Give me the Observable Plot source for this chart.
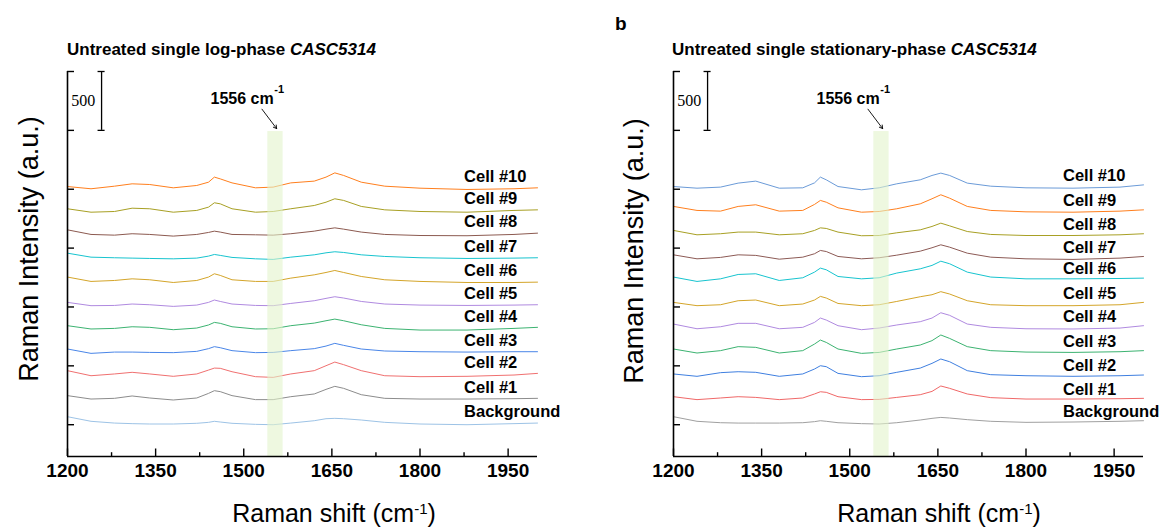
<!DOCTYPE html>
<html><head><meta charset="utf-8">
<script src="https://cdn.jsdelivr.net/npm/d3@7"></script>
<script src="https://cdn.jsdelivr.net/npm/@observablehq/plot@0.6"></script>
<style>
body{margin:0;background:#fff;}
#root{position:relative;width:1161px;height:529px;overflow:hidden;font-family:"Liberation Sans",Arial,sans-serif;color:#000;}
.abs{position:absolute;white-space:nowrap;line-height:1.2;}
.abs sup{font-size:15px;line-height:0;vertical-align:0.55em;}
.plot{position:absolute;top:0;}
</style></head><body><div id="root"></div>
<script>
// ---- data ----
const shifts = [1200,1240,1280,1310,1340,1380,1420,1440,1450,1460,1480,1520,1550,1580,1620,1640,1655,1670,1700,1740,1800,1880,1960,2000];
const seriesNames = ["Background","Cell #1","Cell #2","Cell #3","Cell #4","Cell #5","Cell #6","Cell #7","Cell #8","Cell #9","Cell #10"];
const xTickLabels = [1200,1350,1500,1650,1800,1950];
const xMinorTicks = [1275,1425,1575,1725,1875];
const yTicks = [0,500,1000,1500,2000,2500,3000];
const band = [1541,1567];

// log-phase (a)
const logBackground = [68,29,14,9,6,6,12,20,29,23,12,3,0,14,34,51,54,51,40,20,6,0,9,14];
const logCell1 = [247,218,224,244,227,210,227,266,289,281,247,213,213,238,261,300,326,309,255,224,218,218,221,224];
const logCell2 = [459,416,431,445,431,411,431,464,481,479,450,408,402,431,459,501,532,510,459,416,408,411,422,436];
const logCell3 = [643,606,617,617,614,612,623,646,663,654,629,612,614,629,646,668,691,674,643,626,620,617,620,620];
const logCell4 = [841,813,818,832,827,807,821,847,869,861,832,813,815,841,863,883,897,883,849,818,804,804,818,827];
const logCell5 = [1039,1011,1013,1025,1019,1005,1016,1039,1059,1047,1025,1013,1011,1030,1053,1073,1087,1076,1047,1025,1016,1013,1016,1019];
const logCell6 = [1254,1217,1225,1239,1231,1208,1225,1254,1282,1268,1231,1217,1217,1245,1273,1293,1310,1293,1259,1231,1217,1208,1208,1211];
const logCell7 = [1457,1423,1418,1415,1412,1409,1415,1432,1446,1438,1421,1409,1404,1423,1443,1460,1469,1463,1443,1429,1418,1412,1415,1418];
const logCell8 = [1655,1616,1610,1622,1616,1602,1616,1633,1644,1636,1616,1613,1610,1622,1644,1661,1672,1661,1636,1616,1607,1605,1616,1627];
const logCell9 = [1834,1805,1811,1839,1834,1805,1820,1848,1885,1876,1834,1805,1811,1834,1862,1890,1919,1905,1854,1825,1811,1805,1820,1825];
const logCell10 = [2023,2004,2026,2046,2040,2012,2032,2060,2103,2088,2054,2012,2018,2054,2069,2103,2139,2117,2060,2026,2009,1998,2004,2012];
const logColors = ["#9dc3e6","#8c8c8c","#f07070","#4a86e8","#3cb371","#b08ae0","#d4a52a","#17c4cf","#8c5a50","#a8a024","#ff7f1e"];

// stationary-phase (b)
const statBackground = [68,29,17,14,14,14,17,26,34,29,17,9,6,17,40,54,62,57,43,29,20,23,29,34];
const statCell1 = [238,213,227,238,232,213,227,261,280,275,238,213,215,232,255,283,329,309,261,230,218,218,221,224];
const statCell2 = [431,411,442,450,445,411,431,473,501,493,436,408,416,445,481,521,558,535,459,425,416,411,416,422];
const statCell3 = [643,609,629,663,657,609,629,685,719,699,643,606,614,643,677,714,762,733,663,629,617,614,620,629];
const statCell4 = [855,815,832,861,861,815,827,869,906,889,841,807,821,847,875,906,951,929,855,827,815,813,821,841];
const statCell5 = [1039,1011,1019,1053,1059,1011,1025,1059,1090,1076,1030,1011,1019,1047,1087,1104,1130,1110,1053,1019,1011,1011,1019,1039];
const statCell6 = [1254,1217,1239,1276,1282,1225,1248,1296,1330,1316,1259,1239,1248,1288,1324,1353,1389,1367,1296,1254,1239,1239,1242,1245];
const statCell7 = [1443,1409,1421,1443,1438,1406,1423,1452,1480,1471,1429,1409,1418,1440,1474,1503,1528,1508,1457,1423,1409,1404,1415,1429];
const statCell8 = [1650,1613,1622,1636,1636,1613,1622,1650,1672,1667,1636,1605,1607,1630,1655,1684,1712,1689,1641,1616,1607,1607,1613,1622];
const statCell9 = [1854,1820,1814,1854,1868,1814,1820,1871,1905,1890,1842,1805,1811,1834,1876,1919,1953,1924,1854,1820,1808,1805,1814,1825];
const statCell10 = [2023,2009,2018,2052,2069,2009,2012,2054,2103,2080,2023,1995,2012,2046,2080,2117,2137,2117,2052,2026,2012,2009,2018,2037];
const statColors = ["#a0a0a0","#f06868","#3f7fe0","#3cb371","#b08ae0","#d4a52a","#17c4cf","#8c5a55","#a8a024","#ff7f1e","#6b9bd8"];

// ---- drawing ----
const Y0 = -270, Y1 = 3000, X0 = 1200, X1 = 2000;
const FONT = '"Liberation Sans", Arial, sans-serif';

function panel({values, colors, left, width, ml, mr, labelX, labelDy}) {
  const rows = [];
  seriesNames.forEach((name, i) => values[i].forEach((v, j) => rows.push({series: name, shift: shifts[j], value: v})));
  const labels = seriesNames.map((name, i) => ({series: name, value: values[i][values[i].length - 1]}));
  const frameW = width - ml - mr, frameH = 529 - 71 - 73;
  const svg = Plot.plot({
    width, height: 529, marginLeft: ml, marginRight: mr, marginTop: 71, marginBottom: 73,
    x: {domain: [X0, X1], axis: null},
    y: {domain: [Y0, Y1], axis: null},
    color: {domain: seriesNames, range: colors},
    style: {fontFamily: FONT, background: "transparent", overflow: "visible"},
    marks: [
      Plot.line(rows, {x: "shift", y: "value", z: "series", stroke: "series", strokeWidth: 1}),
      Plot.rect([band], {x1: d => d[0], x2: d => d[1], y1: Y0, y2: 2490, fill: "rgb(227,243,204)", fillOpacity: 0.6}),
      Plot.text(labels, {x: labelX, y: "value", text: "series", dy: labelDy, textAnchor: "start", fontSize: 16.5, fontWeight: "bold", fill: "#000"}),
      // axes
      Plot.ruleX([X0], {stroke: "#000", strokeWidth: 1.6}),
      Plot.ruleY([Y0], {stroke: "#000", strokeWidth: 1.6}),
      Plot.tickX(xTickLabels, {x: d => d, insetTop: frameH - 7.5, stroke: "#000", strokeWidth: 1.4}),
      Plot.tickX(xMinorTicks, {x: d => d, insetTop: frameH - 3.8, stroke: "#000", strokeWidth: 1.4}),
      Plot.tickY(yTicks, {y: d => d, insetRight: frameW - 7, stroke: "#000", strokeWidth: 1.4}),
      Plot.text(xTickLabels, {x: d => d, text: d => String(d), frameAnchor: "bottom", dy: 20, fontSize: 19, fontWeight: "bold", fill: "#000"}),
      // scale bar 500
      Plot.ruleX([1258], {y1: 2500, y2: 3000, stroke: "#000", strokeWidth: 1.3}),
      Plot.ruleY([2500, 3000], {x1: 1252, x2: 1264, stroke: "#000", strokeWidth: 1.3}),
      Plot.text(["500"], {x: 1227, y: 2750, text: d => d, fontFamily: '"Liberation Serif", "Times New Roman", serif', fontSize: 16, fill: "#000"}),
      // 1556 annotation
      Plot.text(["1556 cm"], {x: 1551, y: 2770, text: d => d, textAnchor: "end", fontSize: 16, fontWeight: "bold", fill: "#000"}),
      Plot.text(["-1"], {x: 1552, y: 2850, text: d => d, textAnchor: "start", fontSize: 11, fontWeight: "bold", fill: "#000"}),
      Plot.arrow([0], {x1: 1531, y1: 2680, x2: 1556, y2: 2515, stroke: "#000", strokeWidth: 0.9, headLength: 6})
    ]
  });
  svg.classList.add("plot");
  svg.style.left = left + "px";
  return svg;
}

const root = document.getElementById("root");
root.appendChild(panel({
  values: [logBackground, logCell1, logCell2, logCell3, logCell4, logCell5, logCell6, logCell7, logCell8, logCell9, logCell10],
  colors: logColors, left: 0, width: 580, ml: 67, mr: 43, labelX: 1875, labelDy: -11
}));
root.appendChild(panel({
  values: [statBackground, statCell1, statCell2, statCell3, statCell4, statCell5, statCell6, statCell7, statCell8, statCell9, statCell10],
  colors: statColors, left: 580, width: 581, ml: 93, mr: 18, labelX: 1863, labelDy: -9
}));

function addText(html, x, y, css, tf) {
  const d = document.createElement("div");
  d.className = "abs";
  d.innerHTML = html;
  d.style.left = x + "px";
  d.style.top = y + "px";
  d.style.transform = tf;
  Object.assign(d.style, css);
  root.appendChild(d);
}
const xTitle = 'Raman shift (cm<sup>-1</sup>)';
addText('Untreated single log-phase <i>CASC5314</i>', 67, 50, {fontSize: "17px", fontWeight: "bold"}, "translate(0,-50%)");
addText('Untreated single stationary-phase <i>CASC5314</i>', 672, 50, {fontSize: "17px", fontWeight: "bold"}, "translate(0,-50%)");
addText('b', 615, 24, {fontSize: "19px", fontWeight: "bold"}, "translate(0,-50%)");
addText('Raman Intensity (a.u.)', 29, 249, {fontSize: "27px"}, "translate(-50%,-50%) rotate(-90deg)");
addText('Raman Intensity (a.u.)', 634, 251, {fontSize: "27px"}, "translate(-50%,-50%) rotate(-90deg)");
addText(xTitle, 334, 513, {fontSize: "25px"}, "translate(-50%,-50%)");
addText(xTitle, 939, 513, {fontSize: "25px"}, "translate(-50%,-50%)");
</script>
</body></html>
